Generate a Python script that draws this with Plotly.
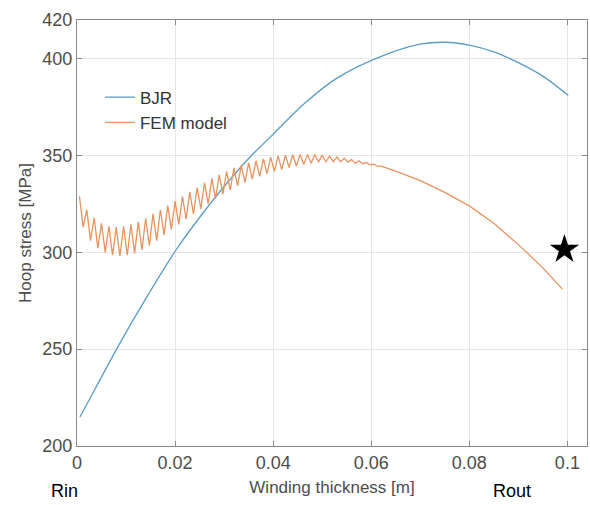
import plotly.graph_objects as go

# ---------------- data ----------------
bjr_x = [0.0006, 0.004, 0.0085, 0.014, 0.0204, 0.025, 0.030, 0.035, 0.0394, 0.0462,
         0.053, 0.0618, 0.070, 0.075, 0.080, 0.085, 0.090, 0.095, 0.1002]
bjr_y = [215, 231, 252, 276, 302, 318, 334, 348.5, 359.5, 376.5,
         390, 401, 407.5, 408.5, 407, 403.5, 398, 391, 381]

# FEM model: oscillating part (peak positions, peak values, trough positions, trough values)
fem_peak_x = [0.0005, 0.002, 0.0035, 0.005, 0.0065, 0.008, 0.0095, 0.011, 0.0125, 0.014,
              0.0155, 0.017, 0.0185, 0.020, 0.0215, 0.023, 0.0245, 0.026, 0.0275, 0.029,
              0.0305, 0.032, 0.0335, 0.035, 0.0365, 0.038, 0.0395, 0.041, 0.0425, 0.044,
              0.0455, 0.047, 0.0485, 0.050, 0.0515, 0.053, 0.0545, 0.056, 0.0575, 0.059,
              0.0605, 0.062]
fem_peak_y = [329, 322, 317.8, 315, 313.5, 313, 313.5, 314.5, 315.8, 317.6,
              319.9, 322, 324.1, 326.5, 328.9, 331.2, 333.5, 335.9, 338.2, 340,
              341.8, 343.6, 344.9, 346.2, 347.3, 348.3, 349.2, 349.8, 350.2, 350.4,
              350.6, 350.6, 350.5, 350.2, 349.7, 349.2, 348.6, 347.9, 347.3, 346.4,
              345.5, 344.5]
fem_trough_x = [0.00125, 0.00275, 0.00425, 0.00575, 0.00725, 0.00875, 0.01025, 0.01175, 0.01325, 0.01475,
                0.01625, 0.01775, 0.01925, 0.02075, 0.02225, 0.02375, 0.02525, 0.02675, 0.02825, 0.02975,
                0.03125, 0.03275, 0.03425, 0.03575, 0.03725, 0.03875, 0.04025, 0.04175, 0.04325, 0.04475,
                0.04625, 0.04775, 0.04925, 0.05075, 0.05225, 0.05375, 0.05525, 0.05675, 0.05825, 0.05975,
                0.06125, 0.06275]
fem_trough_y = [313, 306, 302.2, 300, 298.5, 298, 298.5, 299.5, 301.2, 303.4,
                306.1, 309, 311.9, 314.5, 317.1, 319.8, 322.5, 325.1, 327.8, 330,
                332.2, 334.4, 336.1, 337.8, 339.3, 340.7, 341.8, 342.8, 343.8, 344.6,
                345.4, 346.0, 346.5, 346.8, 346.9, 346.8, 346.6, 346.1, 345.7, 345.2,
                344.5, 343.9]
# FEM model: smooth tail
fem_tail_x = [0.065, 0.070, 0.075, 0.080, 0.085, 0.090, 0.095, 0.099]
fem_tail_y = [342, 337, 331, 324, 315, 304, 292, 281]

star_x = [0.0994]
star_y = [301.5]

x_ticks = [0, 0.02, 0.04, 0.06, 0.08, 0.1]
x_tick_text = ["0", "0.02", "0.04", "0.06", "0.08", "0.1"]
y_ticks = [200, 250, 300, 350, 400, 420]

# build FEM polyline
fem_x, fem_y = [], []
for px, py, tx, ty in zip(fem_peak_x, fem_peak_y, fem_trough_x, fem_trough_y):
    fem_x += [px, tx]
    fem_y += [py, ty]
fem_x += fem_tail_x
fem_y += fem_tail_y

FONT = "Liberation Sans, Arial"

# ---------------- figure ----------------
fig = go.Figure()
fig.add_trace(go.Scatter(x=bjr_x, y=bjr_y, mode="lines", name="BJR",
                         line=dict(color="#5a9cc6", width=1.3, shape="spline", smoothing=0.8)))
fig.add_trace(go.Scatter(x=fem_x, y=fem_y, mode="lines", name="FEM model",
                         line=dict(color="#e9935f", width=1.3)))
fig.add_trace(go.Scatter(x=star_x, y=star_y, mode="markers", showlegend=False,
                         marker=dict(symbol="star", size=22, color="black")))

axis_common = dict(showline=True, linecolor="#8a8a8a", linewidth=1, mirror="ticks",
                   ticks="inside", ticklen=5, tickcolor="#8a8a8a",
                   showgrid=True, gridcolor="#e6e6e6", zeroline=False,
                   tickfont=dict(family=FONT, size=18, color="#4d4d4d"))

fig.update_xaxes(range=[0, 0.104], tickvals=x_ticks, ticktext=x_tick_text,
                 title=dict(text="Winding thickness [m]", standoff=9,
                            font=dict(family=FONT, size=17, color="#4d4d4d")),
                 **axis_common)
fig.update_yaxes(range=[200, 420], tickvals=y_ticks,
                 title=dict(text="Hoop stress [MPa]", standoff=6,
                            font=dict(family=FONT, size=17, color="#4d4d4d")),
                 **axis_common)

fig.update_layout(
    width=590, height=505,
    margin=dict(l=77, r=3, t=20, b=59),
    paper_bgcolor="white", plot_bgcolor="white",
    legend=dict(x=0.045, y=0.86, xanchor="left", yanchor="top",
                bgcolor="rgba(255,255,255,0)", tracegroupgap=0,
                font=dict(family=FONT, size=17, color="#333333")),
    annotations=[
        dict(text="Rin", x=-0.024, y=-0.106, xref="paper", yref="paper", showarrow=False,
             xanchor="center", yanchor="middle",
             font=dict(family=FONT, size=18, color="black")),
        dict(text="Rout", x=0.853, y=-0.106, xref="paper", yref="paper", showarrow=False,
             xanchor="center", yanchor="middle",
             font=dict(family=FONT, size=18, color="black")),
    ],
)

fig.write_html("out.html")
